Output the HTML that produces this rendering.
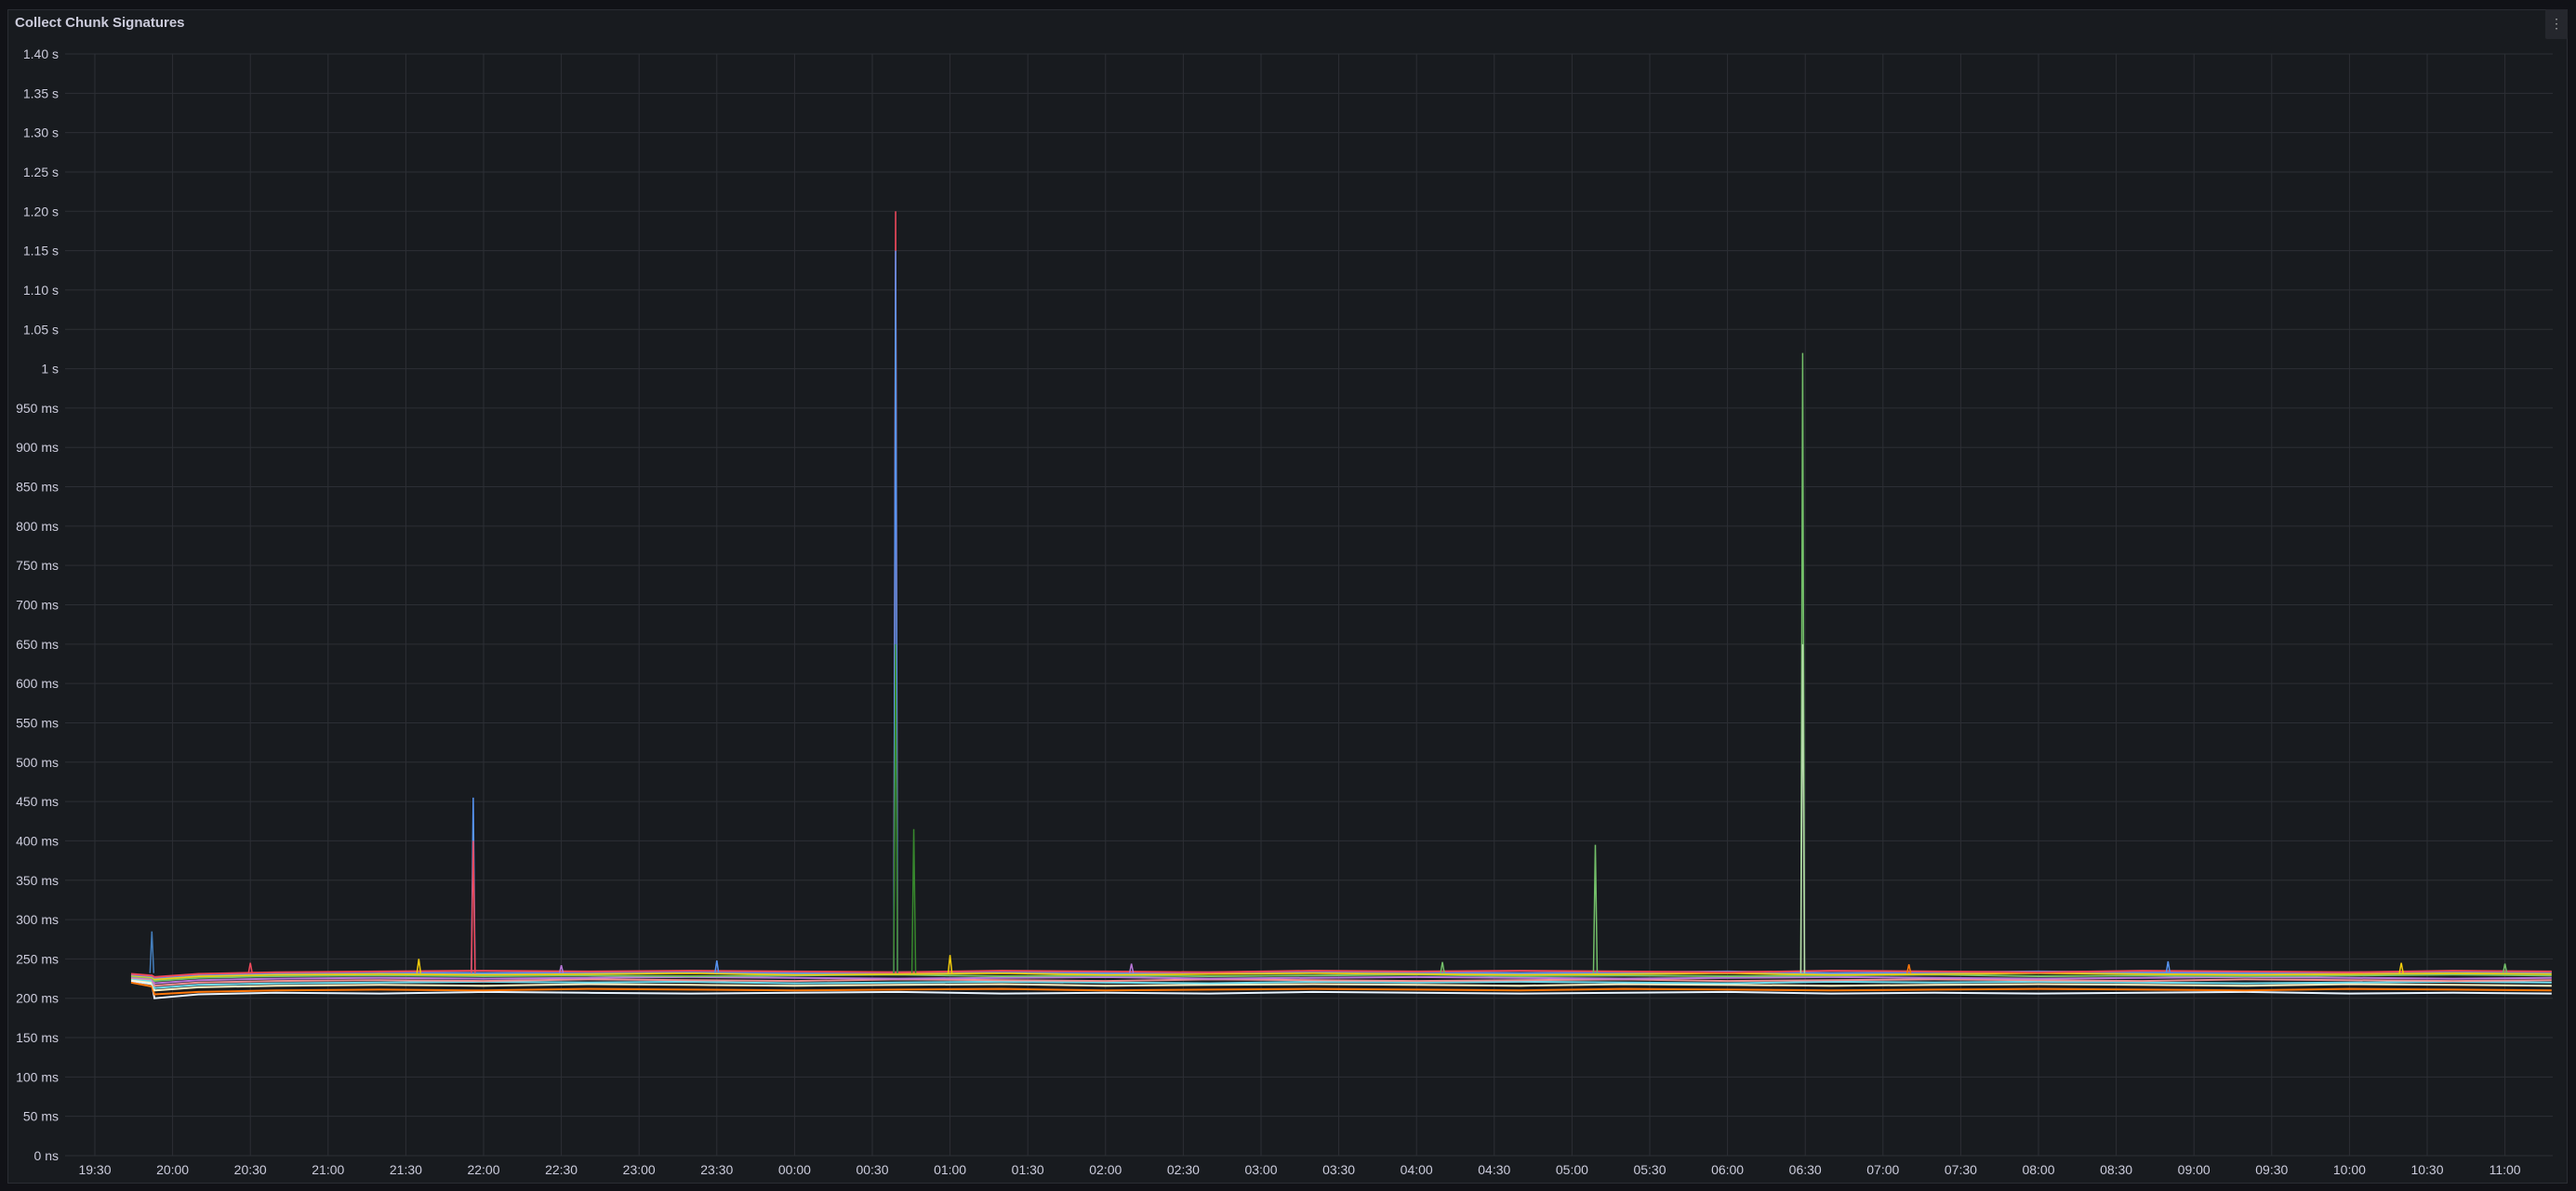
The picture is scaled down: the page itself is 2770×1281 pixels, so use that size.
<!DOCTYPE html>
<html><head><meta charset="utf-8"><style>
html,body{margin:0;padding:0;background:#111217;width:2770px;height:1281px;overflow:hidden;font-family:"Liberation Sans",sans-serif;}
#panel{position:absolute;left:8px;top:10px;width:2753px;height:1263px;background:#181b1f;border:1px solid #2a2d33;box-sizing:border-box;}
#title{position:absolute;left:16px;top:16px;color:#ccccdc;font-size:15px;font-weight:bold;}
#menu{position:absolute;left:2737px;top:10px;width:24px;height:32px;background:#25272d;border-radius:2px;color:#aaa;font-size:14px;text-align:center;line-height:30px;}
svg{position:absolute;left:0;top:0;}
</style></head><body>
<div id="panel"></div>
<div id="title">Collect Chunk Signatures</div>
<div id="menu">⋮</div>
<svg id="chart" width="2770" height="1281"></svg>
<script>
const yTicks=[0,50,100,150,200,250,300,350,400,450,500,550,600,650,700,750,800,850,900,950,1000,1050,1100,1150,1200,1250,1300,1350,1400];
const yLabels=["0 ns","50 ms","100 ms","150 ms","200 ms","250 ms","300 ms","350 ms","400 ms","450 ms","500 ms","550 ms","600 ms","650 ms","700 ms","750 ms","800 ms","850 ms","900 ms","950 ms","1 s","1.05 s","1.10 s","1.15 s","1.20 s","1.25 s","1.30 s","1.35 s","1.40 s"];
const xLabels=["19:30","20:00","20:30","21:00","21:30","22:00","22:30","23:00","23:30","00:00","00:30","01:00","01:30","02:00","02:30","03:00","03:30","04:00","04:30","05:00","05:30","06:00","06:30","07:00","07:30","08:00","08:30","09:00","09:30","10:00","10:30","11:00"];
const times=[14,22,23,40,70,110,150,190,230,270,310,350,390,430,470,510,550,590,630,670,710,750,790,830,870,910,948];
const s1=[222,218,200,205,207,206,208,207,206,207,208,206,207,206,208,207,206,207,208,206,207,206,207,208,206,207,206];
const s2=[220,215,205,208,210,211,210,212,211,210,211,212,210,211,212,211,210,212,211,210,211,212,211,210,212,211,210];
const s3=[224,220,210,214,216,217,216,218,217,216,217,218,216,217,218,217,216,218,217,216,217,218,217,216,218,217,216];
const s4=[225,222,213,217,219,220,221,220,221,219,220,221,220,219,221,220,221,220,219,221,220,221,220,219,220,221,220];
const s5=[226,224,216,220,222,223,222,224,223,222,224,223,222,224,223,222,223,224,222,223,224,223,222,224,223,222,223];
const s6=[227,225,219,223,225,226,225,226,227,226,225,226,227,225,226,227,226,225,226,227,226,225,226,227,226,225,226];
const s7=[228,226,222,226,228,229,228,229,228,229,230,228,229,228,229,230,228,229,228,229,230,228,229,228,229,230,229];
const s8=[229,227,224,228,230,231,230,231,232,230,231,232,230,231,232,231,230,231,232,230,231,232,231,230,231,232,231];
const s9=[230,228,226,230,232,233,232,233,234,232,233,234,232,233,234,233,232,233,234,232,233,234,233,232,233,234,233];
const s10=[231,229,227,231,233,234,235,234,235,234,233,235,234,233,235,234,235,234,233,235,234,233,235,234,233,235,234];
const seriesList=[s1,s2,s3,s4,s5,s6,s7,s8,s9,s10];
const colors=["#e8f4ff","#FF780A","#FFF3C4","#70DBED","#F29191","#B877D9","#73BF69","#F2CC0C","#5794F2","#F2495C"];
const spikeT=[22,146,146,309,309,309,316,579,659,659,60,125,180,240,330,400,520,700,800,890,930];
const spikeV=[285,455,400,1200,1150,650,415,395,1020,650,245,250,242,248,255,244,246,243,247,245,244];
const spikeC=["#447EBC","#5794F2","#F2495C","#F2495C","#5794F2","#37872D","#37872D","#73BF69","#73BF69","#B7DBAB","#F2495C","#F2CC0C","#B877D9","#5794F2","#F2CC0C","#B877D9","#73BF69","#FF780A","#5794F2","#F2CC0C","#73BF69"];
const X0=102,PXM=83.6/30,Y0=1243,PXV=1185/1400,L=70,R=2745;
const xs=m=>X0+m*PXM, ys=v=>Y0-v*PXV;
const svg=document.getElementById('chart');const NS='http://www.w3.org/2000/svg';
function mk(t,a){const e=document.createElementNS(NS,t);for(const k in a)e.setAttribute(k,a[k]);svg.appendChild(e);return e;}
yTicks.forEach((v,i)=>{const g=mk('line',{x1:L,x2:R,y1:ys(v),y2:ys(v),stroke:'#2c2f35','stroke-width':1});

const t=mk('text',{x:63,y:ys(v)+5,'text-anchor':'end',fill:'#ccccdc','font-size':14,'font-family':'Liberation Sans'});t.textContent=yLabels[i];
});
xLabels.forEach((s,i)=>{const x=xs(i*30);const g=mk('line',{x1:x,x2:x,y1:58,y2:1243,stroke:'#2c2f35','stroke-width':1});

const t=mk('text',{x:x,y:1263,'text-anchor':'middle',fill:'#ccccdc','font-size':14,'font-family':'Liberation Sans'});t.textContent=s;
});
seriesList.forEach((s,i)=>{const d=s.map((v,j)=>(j?'L':'M')+xs(times[j]).toFixed(1)+','+ys(v).toFixed(1)).join('');
const p=mk('path',{d:d,fill:'none',stroke:colors[i],'stroke-width':2});
});
spikeT.forEach((t,i)=>{const x=xs(t),b=ys(232),tp=ys(spikeV[i]);
const p=mk('path',{d:`M${x-2},${b}L${x},${tp}L${x+2},${b}`,fill:'none',stroke:spikeC[i],'stroke-width':1.5});
});
</script>
</body></html>
